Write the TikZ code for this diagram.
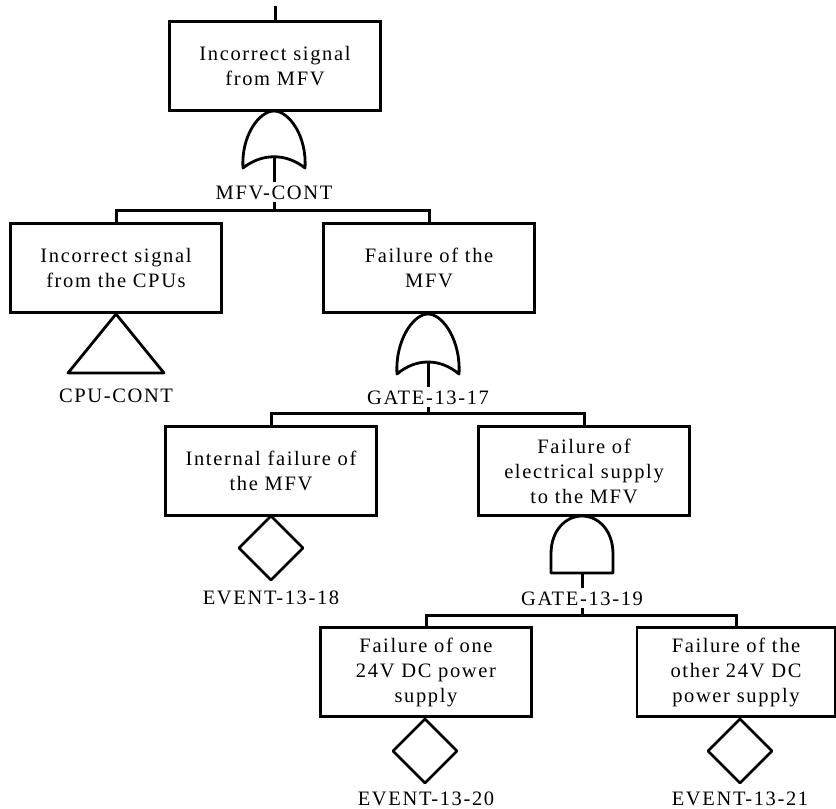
\documentclass[tikz,border=0pt]{standalone}
\usepackage{fontspec}
\setmainfont{Liberation Serif}[LetterSpace=8]
\usetikzlibrary{calc}

\begin{document}
\begin{tikzpicture}[x=1pt,y=-1pt]
\tikzstyle{event}=[rectangle,draw=black,line width=2.8pt,minimum width=211pt,minimum height=89pt,inner sep=0pt,align=center,font=\fontsize{20.5}{25}\selectfont]
\tikzstyle{gatename}=[inner sep=3pt,text height=14pt,text depth=0pt,font=\fontsize{20.5}{24}\selectfont]
\tikzstyle{gate}=[line width=2.8pt,line join=round]
\tikzstyle{wire}=[line width=3pt]
\useasboundingbox (0,0) rectangle (836,809);
% boxes
\node[event] (top) at (275,66) {Incorrect signal\\from MFV};
\node[event] (cpu) at (116,268) {Incorrect signal\\from the CPUs};
\node[event] (fmfv) at (429,268) {Failure of the\\MFV};
\node[event] (int) at (271,471) {Internal failure of\\the MFV};
\node[event] (elec) at (584,471) {Failure of\\electrical supply\\to the MFV};
\node[event] (one) at (426,672) {Failure of one\\24V DC power\\supply};
\node[event,minimum width=198pt] (other) at (736,672) {Failure of the\\other 24V DC\\power supply};
% gate and event names
\node[gatename] (mfvc) at (274,192) {MFV-CONT};
\node[gatename] (cpuc) at (116,395) {CPU-CONT};
\node[gatename] (g1317) at (428,397) {GATE-13-17};
\node[gatename] (ev18) at (271,597) {EVENT-13-18};
\node[gatename] (g1319) at (582,598) {GATE-13-19};
\node[gatename] (ev20) at (426,798) {EVENT-13-20};
\node[gatename] (ev21) at (740,798) {EVENT-13-21};
% or gates
\draw[gate,shift={(274,111)}] (-31,57) .. controls (-33,25) and (-15,0) .. (0,0) .. controls (15,0) and (33,25) .. (31,57) .. controls (12,42) and (-12,42) .. cycle;
\draw[gate,shift={(428,314)}] (-31,60) .. controls (-33,27) and (-15,0) .. (0,0) .. controls (15,0) and (33,27) .. (31,60) .. controls (12,44) and (-12,44) .. cycle;
\coordinate (or1) at (274,157);
\coordinate (or2) at (428,362);
% and gate
\draw[gate,shift={(582,516)}] (-31,57) -- (-31,38) .. controls (-31,14) and (-16,0) .. (0,0) .. controls (16,0) and (31,14) .. (31,38) -- (31,57) -- cycle;
\coordinate (and1) at (582,573);
% transfer and basic events
\draw[gate] (116,314) -- (164,373) -- (68,373) -- cycle;
\draw[gate] (271,516) -- (303,548) -- (271,580) -- (239,548) -- cycle;
\draw[gate] (425,719) -- (457,751) -- (425,783) -- (393,751) -- cycle;
\draw[gate] (740,719) -- (772,751) -- (740,783) -- (708,751) -- cycle;
% connectors
\coordinate (in) at (275,6);
\coordinate (b1) at (274,210);
\coordinate (b2) at (428,413);
\coordinate (b3) at (582,615);
\draw[wire] (in) -- (top.north);
\draw[wire] (or1) -- (or1 |- mfvc.north);
\draw[wire] (mfvc.south) -- (b1);
\draw[wire] (cpu.north) |- (b1) -| (fmfv.north);
\draw[wire] (or2) -- (or2 |- g1317.north);
\draw[wire] (g1317.south) -- (b2);
\draw[wire] (int.north) |- (b2) -| (elec.north);
\draw[wire] (and1) -- (and1 |- g1319.north);
\draw[wire] (g1319.south) -- (b3);
\draw[wire] (one.north) |- (b3) -| (other.north);
\end{tikzpicture}
\end{document}
